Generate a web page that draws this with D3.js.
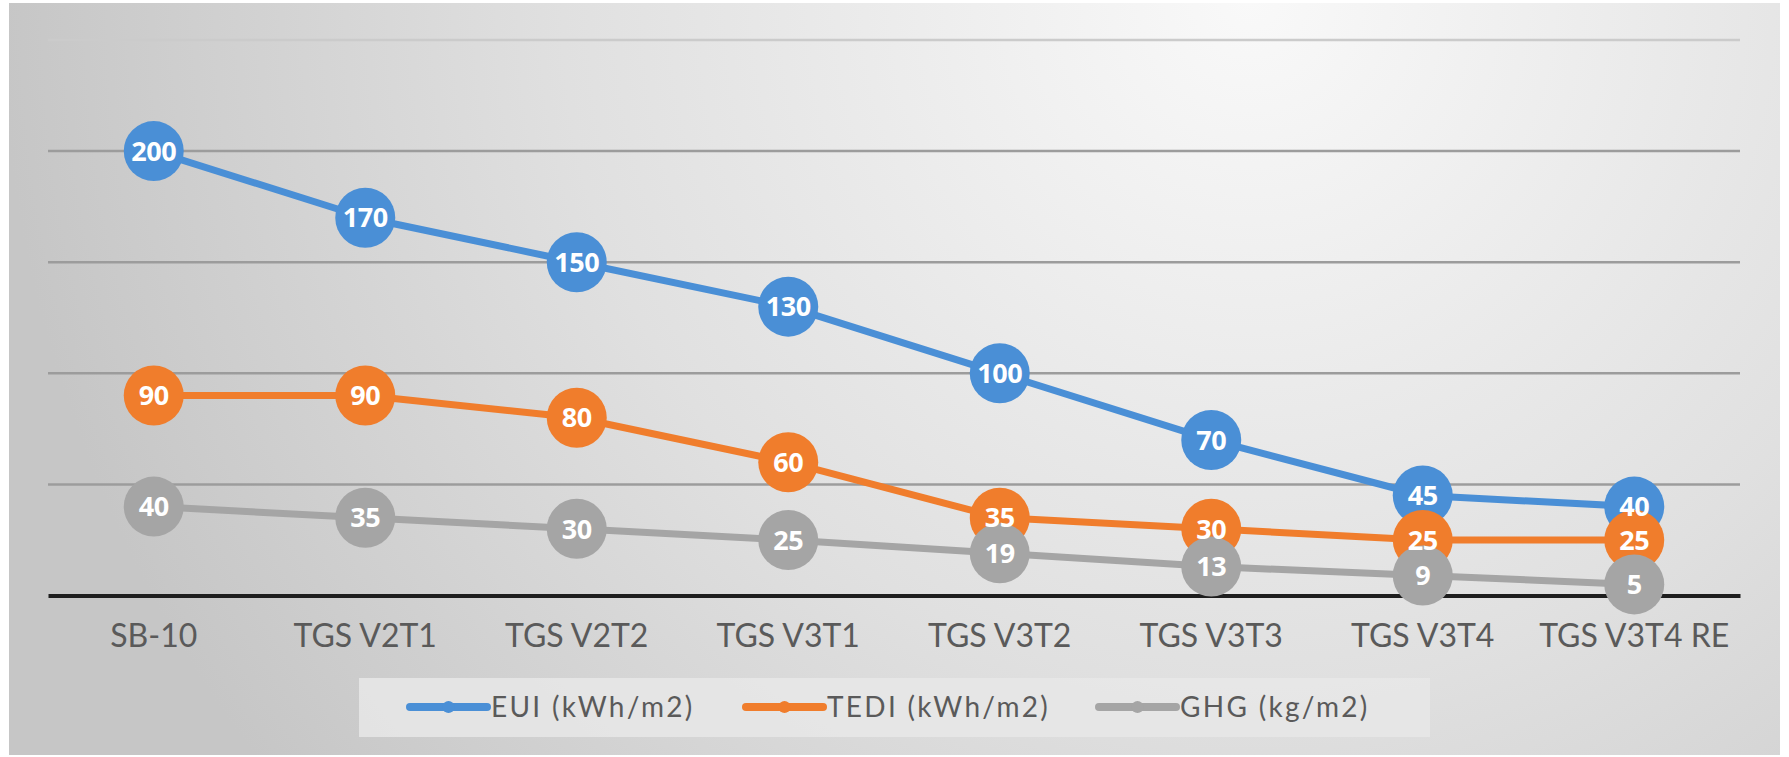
<!DOCTYPE html>
<html>
<head>
<meta charset="utf-8">
<script src="https://cdn.jsdelivr.net/npm/d3@7"></script>
<style>
  html, body { margin: 0; padding: 0; background: #fff; }
  svg { display: block; }
</style>
</head>
<body>
<div id="chart"></div>
<script>
// data
var categories = ["SB-10", "TGS V2T1", "TGS V2T2", "TGS V3T1", "TGS V3T2", "TGS V3T3", "TGS V3T4", "TGS V3T4 RE"];
var eui  = [200, 170, 150, 130, 100, 70, 45, 40];
var tedi = [90, 90, 80, 60, 35, 30, 25, 25];
var ghg  = [40, 35, 30, 25, 19, 13, 9, 5];
var seriesNames = ["EUI (kWh/m2)", "TEDI (kWh/m2)", "GHG (kg/m2)"];
var yTicks = [0, 50, 100, 150, 200, 250];

var colors = ["#4a8fd6", "#f07d2c", "#a5a5a5"];
var series = [eui, tedi, ghg];

var width = 1789, height = 757;

var svg = d3.select("#chart")
  .append("svg")
  .attr("width", width)
  .attr("height", height);

var defs = svg.append("defs");
var grad = defs.append("radialGradient")
  .attr("id", "bg")
  .attr("gradientUnits", "userSpaceOnUse")
  .attr("cx", 1250).attr("cy", 0).attr("r", 1250)
  .attr("fx", 1250).attr("fy", 0);
grad.append("stop").attr("offset", "0%").attr("stop-color", "#f9f9f9");
grad.append("stop").attr("offset", "55%").attr("stop-color", "#e0e0e0");
grad.append("stop").attr("offset", "100%").attr("stop-color", "#c6c6c6");

// chart area background
svg.append("rect")
  .attr("x", 9).attr("y", 3)
  .attr("width", 1771).attr("height", 752)
  .attr("fill", "url(#bg)");

var x = d3.scaleBand().domain(categories).range([48, 1740]).padding(0);
var y = d3.scaleLinear().domain([0, 250]).range([595.5, 40]);

var cx = function(i){ return x(categories[i]) + x.bandwidth() / 2; };

// gridlines
svg.append("g")
  .selectAll("line")
  .data(yTicks.filter(function(d){ return d > 0; }))
  .enter().append("line")
  .attr("x1", 48).attr("x2", 1740)
  .attr("y1", function(d){ return y(d); })
  .attr("y2", function(d){ return y(d); })
  .attr("stroke", function(d){ return d == 250 ? "#cbcbcb" : "#9c9c9c"; })
  .attr("stroke-width", 2.5);

// x axis
var xAxis = svg.append("g")
  .attr("transform", "translate(0," + y(0) + ")")
  .call(d3.axisBottom(x).tickSize(0).tickPadding(29));
xAxis.select(".domain")
  .attr("stroke", "#1e1e1e")
  .attr("stroke-width", 4);
xAxis.selectAll("text")
  .attr("font-family", "Lato, sans-serif")
  .attr("font-size", 32)
  .attr("fill", "#5a5a5a");

// series: lines first, then markers, labels on top of everything
var line = d3.line()
  .x(function(d, i){ return cx(i); })
  .y(function(d){ return y(d); });

var linesG = svg.append("g"), dotsG = svg.append("g"), labelsG = svg.append("g");

series.forEach(function(vals, s){
  linesG.append("path")
    .datum(vals)
    .attr("d", line)
    .attr("fill", "none")
    .attr("stroke", colors[s])
    .attr("stroke-width", 7)
    .attr("stroke-linejoin", "round");
});

series.forEach(function(vals, s){
  dotsG.append("g").selectAll("circle")
    .data(vals)
    .enter().append("circle")
    .attr("cx", function(d, i){ return cx(i); })
    .attr("cy", function(d){ return y(d); })
    .attr("r", 30)
    .attr("fill", colors[s]);
});

series.forEach(function(vals, s){
  labelsG.append("g").selectAll("text")
    .data(vals)
    .enter().append("text")
    .text(function(d){ return d; })
    .attr("x", function(d, i){ return cx(i); })
    .attr("y", function(d){ return y(d); })
    .attr("text-anchor", "middle")
    .attr("dy", "0.36em")
    .attr("font-family", "'Open Sans', sans-serif")
    .attr("font-weight", 700)
    .attr("font-size", 27)
    .attr("letter-spacing", -0.5)
    .attr("fill", "#fff");
});

// legend
var legend = svg.append("g");
legend.append("rect")
  .attr("x", 359).attr("y", 678)
  .attr("width", 1071).attr("height", 59)
  .attr("fill", "#e8e8e8")
  .attr("opacity", 0.85);

var legendX = [410, 746, 1099];
seriesNames.forEach(function(name, s){
  var lg = legend.append("g").attr("transform", "translate(" + legendX[s] + ",707)");
  lg.append("line")
    .attr("x1", 0).attr("x2", 77)
    .attr("stroke", colors[s])
    .attr("stroke-width", 8)
    .attr("stroke-linecap", "round");
  lg.append("circle")
    .attr("cx", 38.5).attr("r", 6)
    .attr("fill", colors[s]);
  lg.append("text")
    .attr("x", 81)
    .attr("dy", "0.36em")
    .attr("font-family", "Lato, sans-serif")
    .attr("font-size", 28)
    .attr("letter-spacing", 2.3)
    .attr("fill", "#5a5a5a")
    .text(name);
});
</script>
</body>
</html>
